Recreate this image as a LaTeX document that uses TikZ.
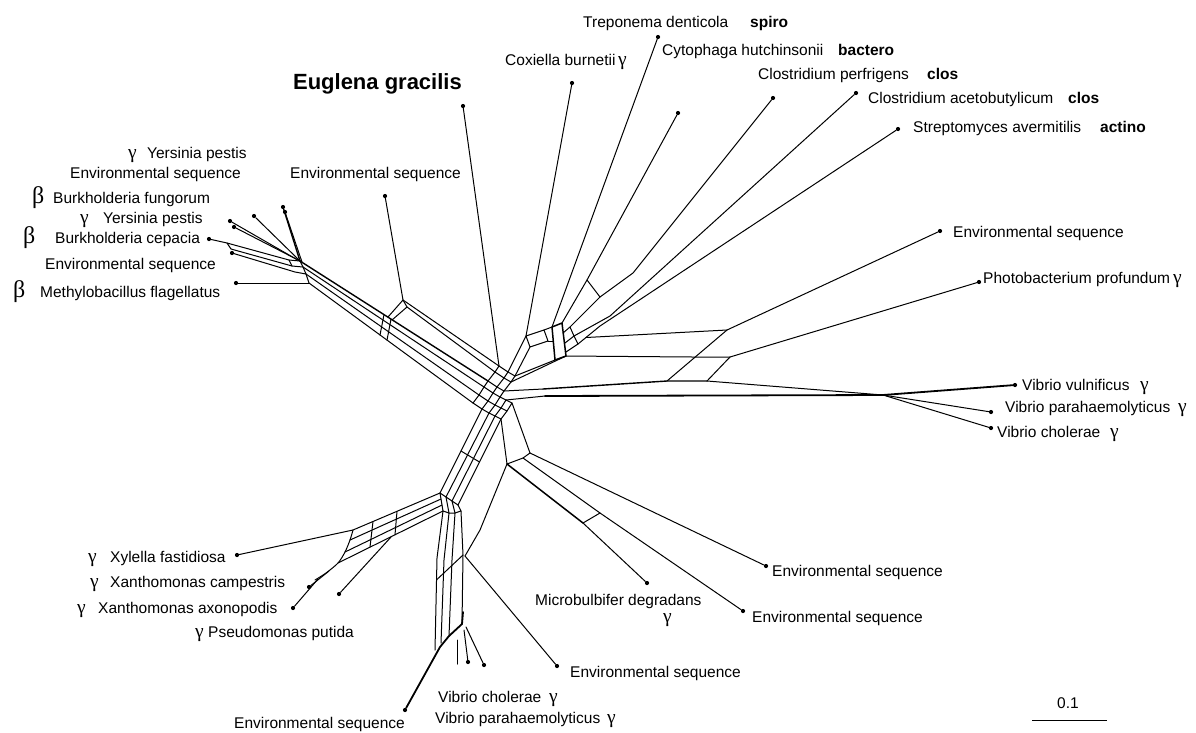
\documentclass[tikz,border=0pt]{standalone}
\usepackage{fontspec}
\setmainfont{Liberation Sans}
\newfontfamily\grkfont{Liberation Serif}
\usetikzlibrary{calc}
\newcommand\gm{{\grkfont\fontsize{19.5}{20}\selectfont γ}}
\newcommand\bt{{\grkfont\fontsize{24}{24}\selectfont β}}
\tikzset{
  net/.style={line width=1pt, line join=round, line cap=round},
  thk/.style={line width=1.8pt, line join=round, line cap=round},
  lab/.style={anchor=base west, inner sep=0pt, font=\fontsize{15.5}{17}\selectfont},
  tax/.style={anchor=base west, inner sep=0pt, font=\fontsize{15.5}{17}\selectfont\bfseries},
  leaf/.style={circle, fill, inner sep=0pt, minimum size=4.2pt},
}
\begin{document}
\begin{tikzpicture}[x=1pt,y=-1pt]
\path[use as bounding box] (0,0) rectangle (1196,732);
% ---------- leaves
\foreach \n/\x/\y in {yp1/230/221, yp2/234/227, bf/254/216, esa/283/207, esb/285/212,
  bc/209/239, esc/232/253, mf/236/283, esU/385/196, eug/463/106, cox/572/83,
  trep/658/37, cyto/678/113, cperf/773/98, cacet/856/93, strep/898/129,
  esR/940/231, photo/979/282, vvul/1015/385, vpar/991/412, vcho/991/428,
  esLRa/766/566, esLRb/743/611, micro/647/583, esBa/557/666, vchob/468/662,
  vparb/484/665, esBb/405/710, pput/339/594, xaxo/293/608, xcam/309/587, xyl/237/555}
  \node[leaf] (\n) at (\x,\y) {};
% ---------- junction coordinates
\foreach \n/\x/\y in {P1/300/261, P2/303/267, P3/306/274, P4/309/283,
  A1/499/366, A2/495/372, A3/488/381, A4/484/387, A5/479/395, A6/473/403,
  B1/508/372, B2/504/378, B3/497/387, B4/493/393, B5/488/401, B6/482/409,
  C1/515/376, C2/511/382, C3/504/391, C4/500/397, C5/495/405,
  Dt2/489/413, Dt3/495/416, Dt4/501/419,
  Db1/440/493, Db2/446/497, Db3/452/501, Db4/458/505,
  X2r/441/499, X3r/442/505, X4r/443/511, BB2/449/513, BB3/455/513, BB4/461/511,
  X1l/353/530, X2l/350/540, X3l/345/552, X4l/338/563,
  E1/403/300, E2/407/307,
  Q1/526/336, Q2/544/330, Q3/548/341, Q4/530/347,
  S1/552/327, S2/562/323, S3/566/356, S4/555/360,
  H3s/543/389, Vs/545/396, J/883/395,
  LRa/507/464, LRb/530/453, M1/583/523, M2/600/513, Z/465/556}
  \coordinate (\n) at (\x,\y);
% ---------- upper-left cluster
\draw[net] (yp1) -- (296,259) -- (P1);
\draw[net] (yp2) -- (P1);
\draw[net] (bf) -- (P1);
\draw[net, line width=1.4pt] (esa) -- (P1);
\draw[net] (esb) -- (302,262);
\draw[net] (bc) -- (227,243) -- (289,260) -- (P1);
\draw[net] (227,243) -- (231,249) -- (292,266) -- (P2);
\draw[net] (289,260) -- (292,266);
\draw[net] (esc) -- (295,272) -- (P3);
\draw[net] (mf) -- (P4);
\draw[net] (P1) -- (P2) -- (P3) -- (P4);
\draw[net, line width=1.4pt] (P1) -- (A3);
\draw[net] (P2) -- (A4);
\draw[net] (P3) -- (A5);
\draw[net] (P4) -- (A6);
\draw[net] (384,314.6) -- (380,335);
\draw[net] (391,319.1) -- (387,340.1);
% environmental sequence (upper)
\draw[net] (esU) -- (E1) -- (E2);
\draw[net] (E1) -- (388,317);
\draw[net] (E2) -- (392,320);
\draw[net] (E1) -- (A1);
\draw[net] (E2) -- (A2);
\draw[net] (eug) -- (A1);
% ---------- central knot
\draw[net] (A1) -- (A2) -- (A3) -- (A4) -- (A5) -- (A6);
\draw[net] (B1) -- (B2) -- (B3) -- (B4) -- (B5) -- (B6);
\draw[net] (C1) -- (C2) -- (C3) -- (C4) -- (C5);
\foreach \i in {1,...,6} \draw[net] (A\i) -- (B\i);
\foreach \i in {1,...,5} \draw[net] (B\i) -- (C\i);
\draw[net] (B6) -- (Dt2) -- (Dt3) -- (Dt4);
\draw[net] (C5) -- (Dt2);
\draw[net] (C5) -- (501,408) -- (Dt3);
\draw[net] (501,408) -- (507,411) -- (Dt4);
\draw[net] (C4) -- (506,400) -- (501,408);
\draw[net] (506,400) -- (512,403) -- (507,411);
\draw[net] (B1) -- (Q1);
\draw[net] (C1) -- (Q4);
\draw[net] (C1) -- (S4);
\draw[net] (C2) -- (S3);
\draw[net] (C3) -- (H3s);
\draw[net] (506,400) -- (Vs);
% ---------- upper-right fan
\draw[net] (cox) -- (Q1);
\draw[net] (Q1) -- (Q2) -- (Q3) -- (Q4) -- cycle;
\draw[net, line width=1.5pt] (S1) -- (S2) -- (S3) -- (S4) -- cycle;
\draw[net] (Q2) -- (S1);
\draw[net] (Q3) -- (553,341);
\draw[net] (trep) -- (S1);
\draw[net] (cyto) -- (587,280) -- (S2);
\draw[net] (cperf) -- (633,273) -- (600,297) -- (570,327) -- (563,333);
\draw[net] (587,280) -- (600,297);
\draw[net] (cacet) -- (610,316) -- (574,336) -- (565,343);
\draw[net] (strep) -- (600,326) -- (578,344) -- (566,352);
\draw[net] (570,327) -- (574,336) -- (578,344);
% ---------- right branches
\draw[net] (586,337.5) -- (727,330);
\draw[net] (esR) -- (727,330);
\draw[net] (S3) -- (693,357) -- (730,357);
\draw[net] (photo) -- (730,357);
\draw[net] (667,381) -- (727,330);
\draw[net] (707,381) -- (730,357);
\draw[thk, line width=1.4pt] (H3s) -- (667,381) -- (707,381);
\draw[net] (707,381) -- (J);
\draw[thk] (Vs) -- (J);
\draw[thk] (J) -- (vvul);
\draw[net] (J) -- (vpar);
\draw[net] (J) -- (vcho);
% ---------- lower-right branch
\draw[net] (Dt4) -- (LRa);
\draw[net] (512,403) -- (LRb);
\draw[net] (LRa) -- (523,458) -- (LRb);
\draw[thk, line width=1.5pt] (LRa) -- (M1);
\draw[net] (M1) -- (micro);
\draw[net] (523,458) -- (M2) -- (esLRb);
\draw[net] (M1) -- (M2);
\draw[net] (LRb) -- (esLRa);
\draw[net] (LRa) -- (480,530) -- (Z);
\draw[net] (Z) -- (esBa);
% ---------- down bundle
\draw[net] (B6) -- (Db1);
\draw[net] (Dt2) -- (Db2);
\draw[net] (Dt3) -- (Db3);
\draw[net] (Dt4) -- (Db4);
\draw[net] (461,451) -- (479.5,462);
\draw[net] (Db1) -- (Db2) -- (Db3) -- (Db4);
\draw[net] (Db1) -- (X2r) -- (X3r) -- (X4r);
\draw[net] (X4r) -- (BB2) -- (BB3) -- (BB4) -- (Db4);
\draw[net] (Db2) -- (BB2);
\draw[net] (Db3) -- (BB3);
% ---------- Xanthomonas band
\draw[net] (Db1) -- (X1l);
\draw[net] (X2r) -- (X2l);
\draw[net] (X3r) -- (X3l);
\draw[net] (X4r) -- (X4l);
\draw[net] (397,511.3) -- (395,534.8);
\draw[net] (373,521.5) -- (370,547.1);
\draw[net] plot[smooth] coordinates {(353,530) (350,540) (345,552) (338,563) (326,573) (315,580)};
\draw[net] (xyl) -- (X1l);
\draw[net] (xcam) -- (329,571);
\draw[net] (xaxo) -- (318,579);
\draw[net] (pput) -- (391,537);
% ---------- bottom bundle
\draw[net] (X4r) -- (437,558) -- (435,650);
\draw[net] (BB2) -- (444,560) -- (441,643);
\draw[net] (BB3) -- (452,560) -- (449,636);
\draw[net] (BB4) -- (463,555) -- (462,624);
\draw[net] (463,555) -- (436.4,580);
\draw[thk] (esBb) -- (440,647) -- (449,636) -- (462,624) -- (463,612);
\draw[net] (vchob) -- (464,630);
\draw[net] (vparb) -- (466,627);
\draw[net] (457,640) -- (457,664);
% ---------- labels, left
\node[lab] at (128,158) {\gm};
\node[lab] at (147,158) {Yersinia pestis};
\node[lab] at (70,178) {Environmental sequence};
\node[lab] at (32,203) {\bt};
\node[lab] at (53,203) {Burkholderia fungorum};
\node[lab] at (80,223) {\gm};
\node[lab] at (103,223) {Yersinia pestis};
\node[lab] at (23,243) {\bt};
\node[lab] at (55,243) {Burkholderia cepacia};
\node[lab] at (45,269) {Environmental sequence};
\node[lab] at (13,297) {\bt};
\node[lab] at (40,297) {Methylobacillus flagellatus};
\node[lab] at (290,178) {Environmental sequence};
\node[anchor=base east, inner sep=0pt, font=\fontsize{22}{24}\selectfont\bfseries] at (462,89) {Euglena gracilis};
% ---------- labels, top
\node[lab] at (583,27) {Treponema denticola};
\node[tax] at (750,27) {spiro};
\node[lab] at (662,55) {Cytophaga hutchinsonii};
\node[tax] at (838,55) {bactero};
\node[lab] at (505,65) {Coxiella burnetii};
\node[lab] at (618,65) {\gm};
\node[lab] at (758,79) {Clostridium perfrigens};
\node[tax] at (927,79) {clos};
\node[lab] at (868,103) {Clostridium acetobutylicum};
\node[tax] at (1068,103) {clos};
\node[lab] at (913,132) {Streptomyces avermitilis};
\node[tax] at (1100,132) {actino};
% ---------- labels, right
\node[lab] at (953,237) {Environmental sequence};
\node[lab] at (983,283) {Photobacterium profundum};
\node[lab] at (1173,283) {\gm};
\node[lab] at (1022,390) {Vibrio vulnificus};
\node[lab] at (1140,390) {\gm};
\node[lab] at (1005,412) {Vibrio parahaemolyticus};
\node[lab] at (1178,412) {\gm};
\node[lab] at (997,437) {Vibrio cholerae};
\node[lab] at (1110,437) {\gm};
% ---------- labels, bottom
\node[lab] at (772,576) {Environmental sequence};
\node[lab] at (752,622) {Environmental sequence};
\node[lab] at (535,605) {Microbulbifer degradans};
\node[lab] at (663,622) {\gm};
\node[lab] at (570,677) {Environmental sequence};
\node[lab] at (438,702) {Vibrio cholerae};
\node[lab] at (549,702) {\gm};
\node[lab] at (435,723) {Vibrio parahaemolyticus};
\node[lab] at (607,723) {\gm};
\node[lab] at (234,728) {Environmental sequence};
\node[lab] at (88,562) {\gm};
\node[lab] at (110,562) {Xylella fastidiosa};
\node[lab] at (90,587) {\gm};
\node[lab] at (110,587) {Xanthomonas campestris};
\node[lab] at (77,613) {\gm};
\node[lab] at (98,613) {Xanthomonas axonopodis};
\node[lab] at (195,637) {\gm};
\node[lab] at (208,637) {Pseudomonas putida};
% ---------- scale bar
\coordinate (sbl) at (1032,720);
\coordinate (sbr) at (1107,720);
\draw[line width=1pt] (sbl) -- (sbr);
\node[anchor=base, inner sep=0pt, font=\fontsize{15.5}{17}\selectfont] at (1068,708) {0.1};
\end{tikzpicture}
\end{document}
